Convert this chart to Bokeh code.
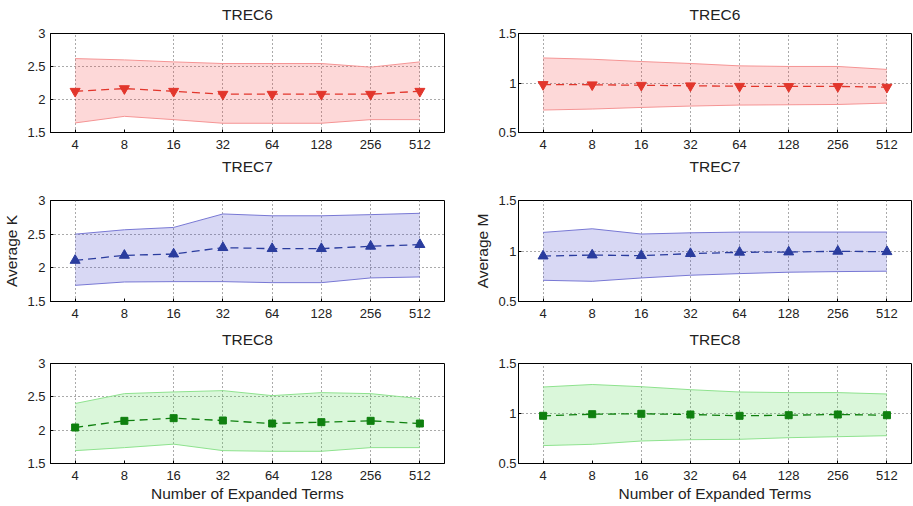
from bokeh.plotting import figure
from bokeh.layouts import column, row
from bokeh.models import FixedTicker, Range1d, FactorRange, NumeralTickFormatter, Title
from bokeh.embed import file_html
from bokeh.resources import INLINE

terms = ["4", "8", "16", "32", "64", "128", "256", "512"]

# TREC6
trec6_k_mean = [2.125, 2.165, 2.125, 2.08, 2.08, 2.08, 2.08, 2.125]
trec6_k_upper = [2.62, 2.60, 2.57, 2.545, 2.545, 2.545, 2.49, 2.57]
trec6_k_lower = [1.645, 1.745, 1.695, 1.64, 1.64, 1.64, 1.695, 1.695]
trec6_m_mean = [0.985, 0.982, 0.977, 0.972, 0.967, 0.965, 0.965, 0.958]
trec6_m_upper = [1.253, 1.24, 1.217, 1.197, 1.173, 1.167, 1.167, 1.137]
trec6_m_lower = [0.727, 0.737, 0.753, 0.767, 0.777, 0.78, 0.783, 0.797]
# TREC7
trec7_k_mean = [2.11, 2.185, 2.205, 2.30, 2.285, 2.285, 2.32, 2.345]
trec7_k_upper = [2.50, 2.565, 2.60, 2.80, 2.773, 2.773, 2.79, 2.81]
trec7_k_lower = [1.74, 1.79, 1.795, 1.795, 1.78, 1.78, 1.85, 1.865]
trec7_m_mean = [0.95, 0.96, 0.954, 0.974, 0.987, 0.99, 0.997, 0.993]
trec7_m_upper = [1.184, 1.22, 1.168, 1.18, 1.1875, 1.1875, 1.1875, 1.1875]
trec7_m_lower = [0.71, 0.70, 0.733, 0.76, 0.776, 0.79, 0.796, 0.80]
# TREC8
trec8_k_mean = [2.04, 2.14, 2.18, 2.145, 2.10, 2.12, 2.14, 2.10]
trec8_k_upper = [2.40, 2.548, 2.573, 2.593, 2.518, 2.563, 2.548, 2.473]
trec8_k_lower = [1.693, 1.738, 1.79, 1.693, 1.683, 1.683, 1.738, 1.738]
trec8_m_mean = [0.977, 0.993, 0.997, 0.99, 0.977, 0.983, 0.99, 0.983]
trec8_m_upper = [1.265, 1.29, 1.268, 1.238, 1.215, 1.209, 1.209, 1.195]
trec8_m_lower = [0.679, 0.692, 0.725, 0.738, 0.742, 0.758, 0.768, 0.778]

k_ticks = [1.5, 2, 2.5, 3]
m_ticks = [0.5, 1, 1.5]

FONT = "Liberation Sans"

styles = {
    "TREC6": dict(fill="#F53C3C", edge="#F59494", mark="#E2362C", marker="inverted_triangle", size=10),
    "TREC7": dict(fill="#3C3CC8", edge="#7878D4", mark="#2A3C9E", marker="triangle", size=10),
    "TREC8": dict(fill="#46D746", edge="#8EE28E", mark="#0F800F", marker="square", size=7),
}

# per-row layout: (height, border_top, border_bottom, gap between frame and title)
row_layout = [(153, 33, 21, 6), (169, 46, 21, 21), (183, 41, 42, 11)]
# per-column layout: (width, border_left, border_right, ylabel_standoff)
col_layout = [(456, 50, 12, 5), (456, 62, 1, 2)]


def make(title, mean, upper, lower, ticks, col, rowi, ylabel=None):
    st = styles[title]
    width, bl, br, ystand = col_layout[col]
    height, bt, bb, gap = row_layout[rowi]
    p = figure(width=width, height=height, x_range=FactorRange(*terms),
               y_range=Range1d(ticks[0], ticks[-1]), output_backend="svg",
               toolbar_location=None, title_location=None,
               min_border_left=bl, min_border_right=br,
               min_border_top=bt, min_border_bottom=bb)
    # spacer between the frame and the title
    p.add_layout(Title(text=" ", text_font_size="1px", standoff=gap), "above")
    p.add_layout(Title(text=title, align="center", text_font=FONT,
                       text_font_size="15.5px", text_font_style="normal",
                       text_color="#222222", standoff=4), "above")
    p.outline_line_color = "black"
    p.outline_line_width = 1
    p.outline_line_alpha = 1
    p.background_fill_color = "white"
    p.border_fill_color = "white"

    p.varea(x=terms, y1=lower, y2=upper, fill_color=st["fill"], fill_alpha=0.2)
    p.line(terms, upper, line_color=st["edge"], line_width=1)
    p.line(terms, lower, line_color=st["edge"], line_width=1)
    p.line(terms, mean, line_color=st["mark"], line_width=1.3, line_dash="8 5")
    p.scatter(terms, mean, marker=st["marker"], size=st["size"],
              fill_color=st["mark"], line_color=st["mark"])

    for ax in (p.xaxis[0], p.yaxis[0]):
        ax.major_label_text_font = FONT
        ax.major_label_text_font_size = "13px"
        ax.major_label_text_color = "#222222"
        ax.axis_line_color = "black"
        ax.major_tick_in = 3
        ax.major_tick_out = 0
        ax.minor_tick_line_color = None
        ax.axis_label_text_font = FONT
        ax.axis_label_text_font_size = "15.5px"
        ax.axis_label_text_font_style = "normal"
        ax.axis_label_text_color = "#222222"
    p.xaxis[0].major_label_standoff = 7
    p.yaxis[0].ticker = FixedTicker(ticks=ticks)
    p.yaxis[0].formatter = NumeralTickFormatter(format="0.[0]")
    p.yaxis[0].major_label_standoff = ystand
    p.yaxis[0].axis_label_standoff = 4
    p.xaxis[0].axis_label_standoff = 2
    p.ygrid[0].ticker = FixedTicker(ticks=ticks)
    for g in (p.xgrid[0], p.ygrid[0]):
        g.grid_line_color = "#555555"
        g.grid_line_dash = "1 3"
        g.grid_line_width = 1
    if ylabel:
        p.yaxis[0].axis_label = ylabel
    if rowi == 2:
        p.xaxis[0].axis_label = "Number of Expanded Terms"
    return p


p1 = make("TREC6", trec6_k_mean, trec6_k_upper, trec6_k_lower, k_ticks, 0, 0)
p2 = make("TREC6", trec6_m_mean, trec6_m_upper, trec6_m_lower, m_ticks, 1, 0)
p3 = make("TREC7", trec7_k_mean, trec7_k_upper, trec7_k_lower, k_ticks, 0, 1, "Average K")
p4 = make("TREC7", trec7_m_mean, trec7_m_upper, trec7_m_lower, m_ticks, 1, 1, "Average M")
p5 = make("TREC8", trec8_k_mean, trec8_k_upper, trec8_k_lower, k_ticks, 0, 2)
p6 = make("TREC8", trec8_m_mean, trec8_m_upper, trec8_m_lower, m_ticks, 1, 2)

layout = column(row(p1, p2), row(p3, p4), row(p5, p6))

open("out.html", "w").write(file_html(layout, INLINE))
